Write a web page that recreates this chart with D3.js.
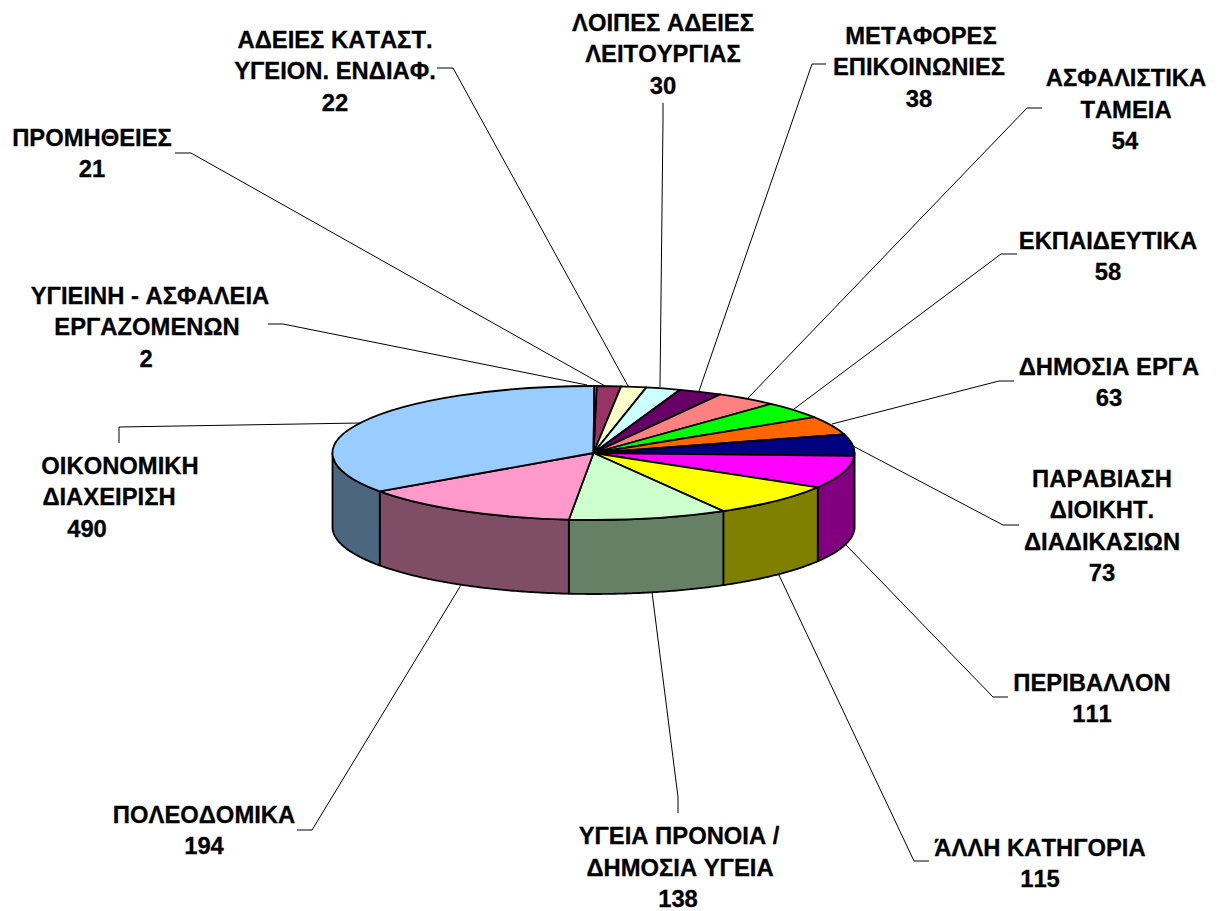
<!DOCTYPE html>
<html><head><meta charset="utf-8">
<script src="https://cdn.jsdelivr.net/npm/d3@7/dist/d3.min.js"></script>
<style>html,body{margin:0;padding:0;background:#fff}svg{display:block}text{font-kerning:none}</style>
</head><body><svg id="c" width="1223" height="911"></svg>
<script>
const categories = [
  ["ΠΡΟΜΗΘΕΙΕΣ"],
  ["ΑΔΕΙΕΣ ΚΑΤΑΣΤ.","ΥΓΕΙΟΝ. ΕΝΔΙΑΦ."],
  ["ΛΟΙΠΕΣ ΑΔΕΙΕΣ","ΛΕΙΤΟΥΡΓΙΑΣ"],
  ["ΜΕΤΑΦΟΡΕΣ","ΕΠΙΚΟΙΝΩΝΙΕΣ"],
  ["ΑΣΦΑΛΙΣΤΙΚΑ","ΤΑΜΕΙΑ"],
  ["ΕΚΠΑΙΔΕΥΤΙΚΑ"],
  ["ΔΗΜΟΣΙΑ ΕΡΓΑ"],
  ["ΠΑΡΑΒΙΑΣΗ","ΔΙΟΙΚΗΤ.","ΔΙΑΔΙΚΑΣΙΩΝ"],
  ["ΠΕΡΙΒΑΛΛΟΝ"],
  ["ΆΛΛΗ ΚΑΤΗΓΟΡΙΑ"],
  ["ΥΓΕΙΑ ΠΡΟΝΟΙΑ /","ΔΗΜΟΣΙΑ ΥΓΕΙΑ"],
  ["ΠΟΛΕΟΔΟΜΙΚΑ"],
  ["ΟΙΚΟΝΟΜΙΚΗ","ΔΙΑΧΕΙΡΙΣΗ"],
  ["ΥΓΙΕΙΝΗ - ΑΣΦΑΛΕΙΑ","ΕΡΓΑΖΟΜΕΝΩΝ"]
];
const values = [21,22,30,38,54,58,63,73,111,115,138,194,490,2];
const topColors = ["#993366","#FFFFCC","#CCFFFF","#660066","#FF8080","#00FF00","#FF6600","#000080","#FF00FF","#FFFF00","#CCFFCC","#FF99CC","#99CCFF","#FFFF00"];

// layout: centre x of each text line, y of the first line, line step
const labelX = [[92,92],[335,335,335],[663,663,663],[921,919,919],[1126,1126,1125],[1108,1108],[1109,1109],[1102,1102,1102,1102],[1092,1092],[1040,1040],[679,680,678],[204,204],[120,109,87],[150,147,146]];
const labelY = [137,39,22,35,77.5,240,366,478,682,847,835.5,814,465,295];
const lineStep = 31.5;
const leaders = [
  [[175,153],[191,153],[605,386]],
  [[437,68],[453,68],[628,386]],
  [[663,103],[663,120],[660,387]],
  [[826,64],[812,64],[699,391]],
  [[1042,108],[1027,108],[748,398]],
  [[1017,254],[1001,254],[794,409]],
  [[1014,381],[999,381],[832,424]],
  [[1019,525],[1003,525],[853,446]],
  [[1008,697],[993,697],[846,545]],
  [[929,861],[914,861],[778,573]],
  [[678,813],[678,797],[652,592]],
  [[297,830],[312,830],[461,585]],
  [[119,443],[119,427],[360,423]],
  [[268,324],[283,324],[587,385]]
];

const cx = 593.5, cy = 453, rx = 261, ry = 67, depth = 74, rot = 0.7 * Math.PI / 180;
const svg = d3.select("#c");
const lineGen = d3.line();

svg.append("g").selectAll("path").data(leaders).join("path")
  .attr("d", d => lineGen(d)).attr("fill","none").attr("stroke","#000").attr("stroke-width",1);

const arcs = d3.pie().sort(null).value(d => d).startAngle(rot).endAngle(2*Math.PI + rot)(values);
const pt = (a, dy) => [cx + rx*Math.sin(a), cy - ry*Math.cos(a) + dy];
const shade = c => { const r = d3.rgb(c); return d3.rgb(r.r/2, r.g/2, r.b/2).formatHex(); };

// side wall: the front half of the rim
const walls = arcs.map((d,i) => {
  const a0 = Math.max(d.startAngle, Math.PI/2), a1 = Math.min(d.endAngle, 3*Math.PI/2);
  if (a1 <= a0) return null;
  const n = Math.max(2, Math.ceil((a1-a0)/0.01));
  const as = d3.range(n+1).map(k => a0 + (a1-a0)*k/n);
  const pts = as.map(a => pt(a,0)).concat(as.slice().reverse().map(a => pt(a,depth)));
  return {i, d: lineGen(pts) + "Z"};
}).filter(Boolean);

svg.append("g").selectAll("path").data(walls).join("path")
  .attr("d", d => d.d).attr("fill", d => shade(topColors[d.i]))
  .attr("stroke","#000").attr("stroke-width",1.8).attr("stroke-linejoin","round");

const arc = d3.arc().innerRadius(0).outerRadius(rx);
svg.append("g").attr("transform",`translate(${cx},${cy}) scale(1,${ry/rx})`)
  .selectAll("path").data(arcs).join("path")
  .attr("d", arc).attr("fill",(d,i)=>topColors[i])
  .attr("stroke","#000").attr("stroke-width",1.8).attr("stroke-linejoin","round")
  .attr("vector-effect","non-scaling-stroke");

const lab = svg.append("g").attr("font-family","'Liberation Sans',Arial,sans-serif")
  .attr("font-weight","bold").attr("font-size",23.8).attr("text-anchor","middle")
  .attr("fill","#000").attr("stroke","#000").attr("stroke-width",0.3);
categories.forEach((lines,i) => {
  lines.concat(String(values[i])).forEach((t,j) => {
    lab.append("text").attr("x",labelX[i][j]).attr("y",labelY[i]+j*lineStep).attr("dy","0.36em").text(t);
  });
});
</script></body></html>
